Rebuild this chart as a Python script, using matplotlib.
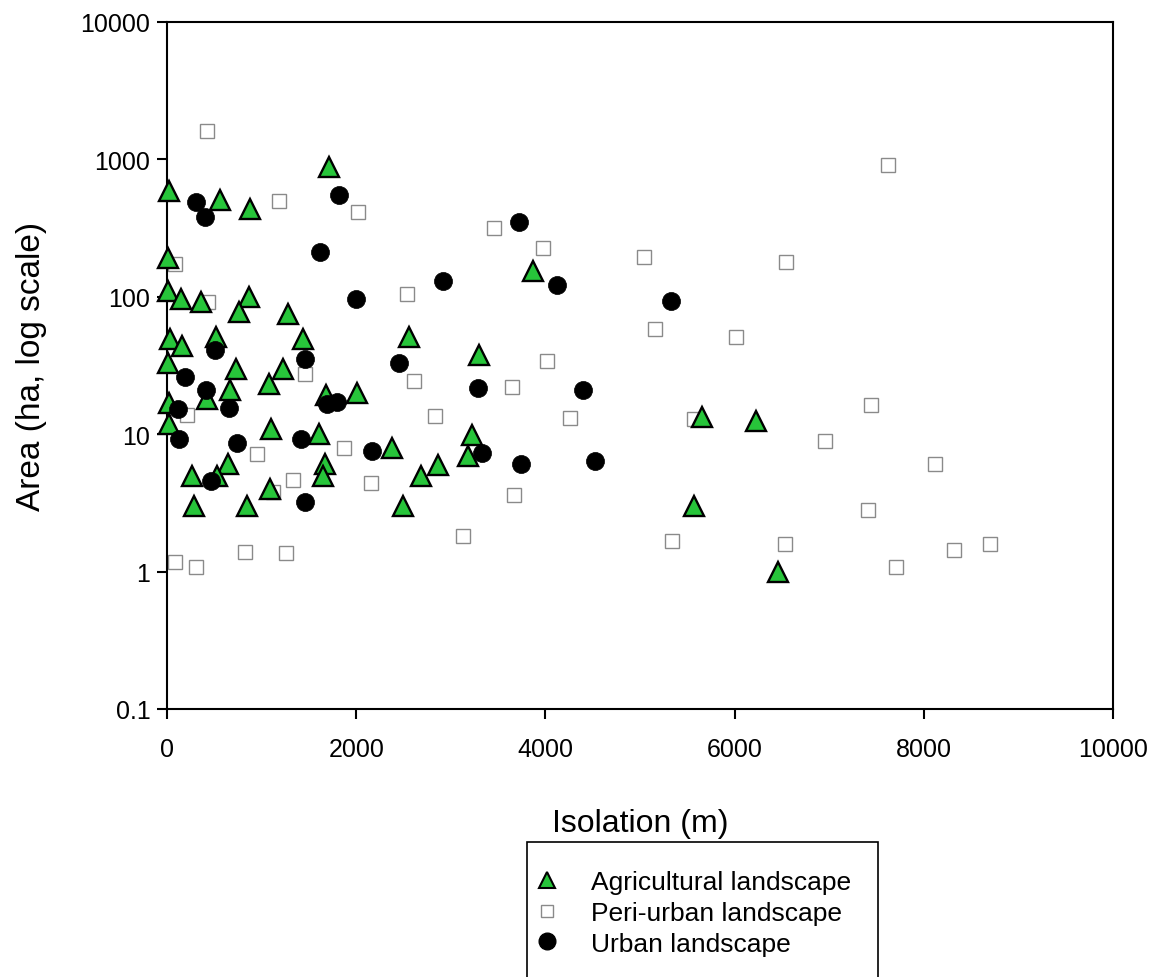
import numpy as np
import matplotlib
matplotlib.use("Agg")
import matplotlib.pyplot as plt
from matplotlib.lines import Line2D
from matplotlib.patches import Rectangle

plt.rcParams["font.family"] = ["Liberation Sans", "DejaVu Sans"]

# isolation (m) and area (ha)
agri_x = [20, 558, 874, 1713, 13, 8, 145, 356, 863, 756, 1283, 35, 160, 520,
          1439, 2557, 11, 727, 1223, 1073, 662, 1684, 2012, 428, 26, 24, 1101,
          1606, 2376, 2869, 2688, 642, 261, 525, 1665, 1654, 1093, 289, 849,
          2495, 3874, 3295, 3221, 3177, 5651, 6231, 5566, 6456]
agri_y = [590, 504, 438, 879, 192, 110, 96, 91, 100, 77, 75, 49, 44, 51,
          49, 51, 33, 30, 30, 23, 21, 19.3, 19.9, 17.9, 16.9, 11.9, 11.0,
          10.0, 7.9, 6.0, 5.0, 6.1, 4.95, 5.0, 6.1, 5.0, 4.0, 3.0, 3.0,
          3.0, 153, 38, 9.9, 6.9, 13.4, 12.5, 3.0, 1.0]

peri_x = [419, 1181, 2024, 85, 430, 2541, 2615, 1455, 215, 3457, 3972, 5037,
          5155, 6019, 4022, 3650, 4258, 5566, 3668, 3124, 5340, 6533, 2833,
          1869, 2159, 950, 1337, 1125, 821, 1254, 81, 303, 7624, 6546, 7447,
          6957, 8115, 7413, 8316, 8697, 7701]
peri_y = [1600, 500, 412, 173, 91, 104, 24.5, 27.5, 13.8, 316, 225, 194,
          58, 51, 34, 22, 13.2, 12.8, 3.6, 1.82, 1.66, 1.58, 13.6,
          7.9, 4.4, 7.2, 4.65, 3.8, 1.38, 1.37, 1.17, 1.08, 914, 179, 16.4,
          8.9, 6.05, 2.8, 1.43, 1.6, 1.08]

urban_x = [305, 398, 1815, 1618, 2003, 2913, 3722, 4126, 5328, 509, 1458,
           2449, 189, 408, 111, 660, 1694, 1800, 3290, 4398, 128, 740, 1415,
           2165, 3325, 3746, 4527, 461, 1462]
urban_y = [488, 379, 549, 212, 96, 131, 348, 121, 93, 41, 35, 33, 26, 21,
           15.2, 15.4, 16.6, 17.1, 21.7, 21.0, 9.2, 8.6, 9.2, 7.5, 7.3, 6.1,
           6.4, 4.6, 3.2]

labels = ["Agricultural landscape", "Peri-urban landscape", "Urban landscape"]
x_ticks = [0, 2000, 4000, 6000, 8000, 10000]
y_ticks = [0.1, 1, 10, 100, 1000, 10000]
y_tick_labels = ["0.1", "1", "10", "100", "1000", "10000"]

green = "#27c53a"
W, H = 1158, 978

fig = plt.figure(figsize=(W / 100, H / 100), dpi=100)
# axes box in pixels: left 167, right 1113, top 23, bottom 710
ax = fig.add_axes([167 / W, 1 - 710 / H, 946 / W, 687 / H])

ax.plot(peri_x, peri_y, ls="none", marker="s", ms=10.5, mfc="white",
        mec="#8a8a8a", mew=1.0, clip_on=False, zorder=2)
ax.plot(agri_x, agri_y, ls="none", marker="^", ms=14.5, mfc=green,
        mec="black", mew=1.7, clip_on=False, zorder=3)
ax.plot(urban_x, urban_y, ls="none", marker="o", ms=13, mfc="black",
        mec="black", mew=0.5, clip_on=False, zorder=4)

ax.set_yscale("log")
ax.set_xlim(0, 10000)
ax.set_ylim(0.1, 10000)
ax.set_xticks(x_ticks)
ax.set_xticklabels([str(t) for t in x_ticks])
ax.set_yticks(y_ticks)
ax.set_yticklabels(y_tick_labels)
ax.minorticks_off()
ax.tick_params(direction="out", length=7, width=1.5, labelsize=18)
ax.tick_params(axis="x", pad=13)
ax.tick_params(axis="y", pad=5)
for sp in ax.spines.values():
    sp.set_linewidth(1.5)

ax.set_xlabel("Isolation (m)", fontsize=23, labelpad=34)
ax.set_ylabel("Area (ha, log scale)", fontsize=24, labelpad=24)

handles = [
    Line2D([], [], ls="none", marker="^", ms=12, mfc=green, mec="black", mew=1.5),
    Line2D([], [], ls="none", marker="s", ms=9, mfc="white", mec="#8a8a8a", mew=1.0),
    Line2D([], [], ls="none", marker="o", ms=12, mfc="black", mec="black"),
]
leg = fig.legend(handles, labels, loc="upper left",
                 bbox_to_anchor=(534 / W, 1 - 871 / H),
                 fontsize=19, frameon=False,
                 handlelength=1.0, handletextpad=1.15, borderpad=0,
                 labelspacing=0.26, borderaxespad=0)

# legend box, open at the bottom edge like the cropped scan
fig.patches.append(Rectangle((527 / W, 1 - 990 / H), 351 / W, 147 / H,
                             transform=fig.transFigure, fill=False,
                             edgecolor="black", linewidth=1.2))

fig.savefig("out.png", dpi=100, facecolor="white")
